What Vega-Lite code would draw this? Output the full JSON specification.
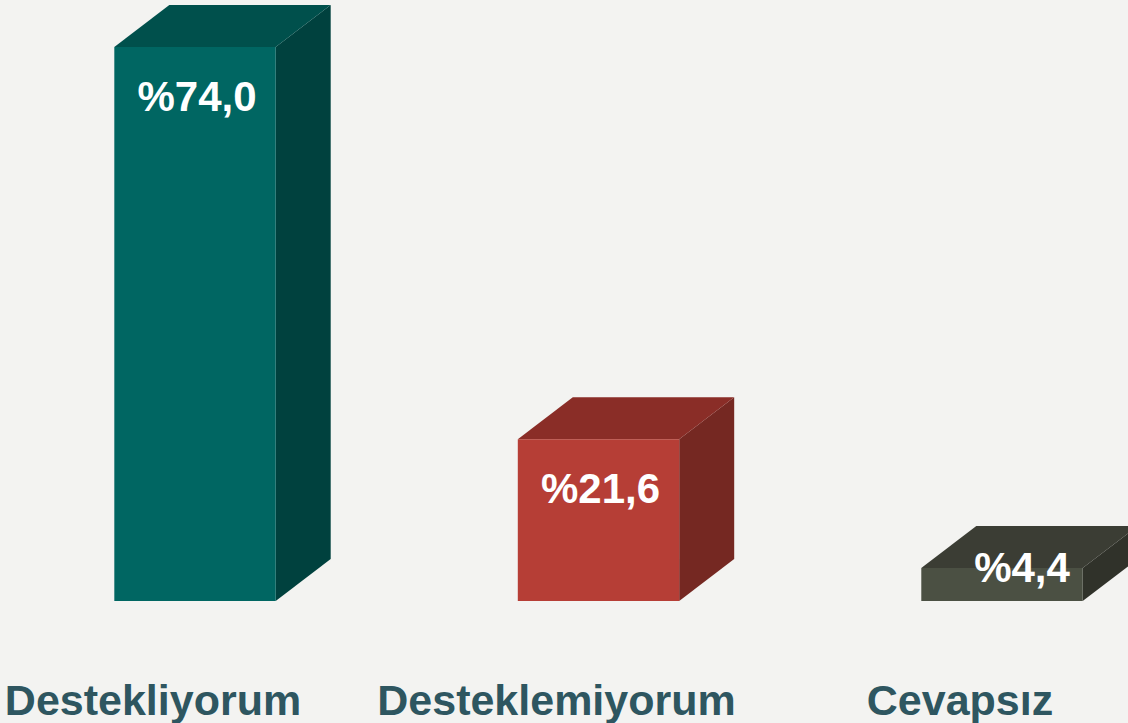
{
  "$schema": "https://vega.github.io/schema/vega-lite/v6.json",
  "width": 1128,
  "height": 723,
  "padding": 0,
  "autosize": "none",
  "background": "#f3f3f1",
  "config": {"view": {"stroke": null}},
  "data": {
    "values": [
      {"cat": "Destekliyorum", "value": 74.0},
      {"cat": "Desteklemiyorum", "value": 21.6},
      {"cat": "Cevapsız", "value": 4.4}
    ]
  },
  "transform": [
    {"window": [{"op": "row_number", "as": "rn"}]},
    {"calculate": "datum.rn - 1", "as": "xc"},
    {"calculate": "datum.xc - 0.2", "as": "xl"},
    {"calculate": "datum.xc + 0.2", "as": "xr"},
    {"calculate": "'%' + replace(format(datum.value, '.1f'), '.', ',')", "as": "label"}
  ],
  "resolve": {"scale": {"color": "independent"}},
  "layer": [
    {
      "transform": [
        {"calculate": "[0, 1]", "as": "k"},
        {"flatten": ["k"]},
        {"calculate": "datum.xr + datum.k * 0.1363", "as": "sx"},
        {"calculate": "datum.value + datum.k * 5.61", "as": "sy"},
        {"calculate": "datum.k * 5.61", "as": "sy2"}
      ],
      "mark": {"type": "area", "orient": "vertical"},
      "encoding": {
        "x": {"field": "sx", "type": "quantitative", "scale": {"domain": [-0.4833, 2.3123], "nice": false, "zero": false}, "axis": null},
        "y": {"field": "sy", "type": "quantitative", "scale": {"domain": [-16.297, 80.28], "nice": false, "zero": false}, "axis": null},
        "y2": {"field": "sy2"},
        "detail": {"field": "cat"},
        "color": {"field": "cat", "type": "nominal", "legend": null,
          "scale": {"domain": ["Destekliyorum", "Desteklemiyorum", "Cevapsız"], "range": ["#00413e", "#752822", "#30322a"]}}
      }
    },
    {
      "transform": [
        {"calculate": "[0, 1]", "as": "k"},
        {"flatten": ["k"]},
        {"calculate": "datum.xl + datum.k * 0.1363", "as": "tx"},
        {"calculate": "datum.xr + datum.k * 0.1363", "as": "tx2"},
        {"calculate": "datum.value + datum.k * 5.61", "as": "ty"}
      ],
      "mark": {"type": "area", "orient": "horizontal"},
      "encoding": {
        "y": {"field": "ty", "type": "quantitative", "scale": {"domain": [-16.297, 80.28], "nice": false, "zero": false}, "axis": null},
        "x": {"field": "tx", "type": "quantitative", "scale": {"domain": [-0.4833, 2.3123], "nice": false, "zero": false}, "axis": null},
        "x2": {"field": "tx2"},
        "detail": {"field": "cat"},
        "color": {"field": "cat", "type": "nominal", "legend": null,
          "scale": {"domain": ["Destekliyorum", "Desteklemiyorum", "Cevapsız"], "range": ["#00504c", "#8a2d27", "#3b3d34"]}}
      }
    },
    {
      "mark": {"type": "bar"},
      "encoding": {
        "x": {"field": "xl", "type": "quantitative", "scale": {"domain": [-0.4833, 2.3123], "nice": false, "zero": false}, "axis": null},
        "x2": {"field": "xr"},
        "y": {"field": "value", "type": "quantitative", "scale": {"domain": [-16.297, 80.28], "nice": false, "zero": false}, "axis": null},
        "y2": {"datum": 0},
        "color": {"field": "cat", "type": "nominal", "legend": null,
          "scale": {"domain": ["Destekliyorum", "Desteklemiyorum", "Cevapsız"], "range": ["#006662", "#b63e36", "#4b5043"]}}
      }
    },
    {
      "transform": [{"filter": "datum.value >= 10"}],
      "mark": {"type": "text", "color": "#ffffff", "font": "Liberation Sans", "fontWeight": "bold", "fontSize": 42, "align": "center", "baseline": "middle", "dy": 51, "dx": 2},
      "encoding": {
        "x": {"field": "xc", "type": "quantitative", "scale": {"domain": [-0.4833, 2.3123], "nice": false, "zero": false}, "axis": null},
        "y": {"field": "value", "type": "quantitative", "scale": {"domain": [-16.297, 80.28], "nice": false, "zero": false}, "axis": null},
        "text": {"field": "label"}
      }
    },
    {
      "transform": [{"filter": "datum.value < 10"}],
      "mark": {"type": "text", "color": "#ffffff", "font": "Liberation Sans", "fontWeight": "bold", "fontSize": 42, "align": "center", "baseline": "middle", "dy": 1, "dx": 20},
      "encoding": {
        "x": {"field": "xc", "type": "quantitative", "scale": {"domain": [-0.4833, 2.3123], "nice": false, "zero": false}, "axis": null},
        "y": {"field": "value", "type": "quantitative", "scale": {"domain": [-16.297, 80.28], "nice": false, "zero": false}, "axis": null},
        "text": {"field": "label"}
      }
    },
    {
      "mark": {"type": "text", "color": "#2e5660", "font": "Liberation Sans", "fontWeight": "bold", "fontSize": 43, "align": "center", "baseline": "alphabetic", "dy": 114, "dx": -42},
      "encoding": {
        "x": {"field": "xc", "type": "quantitative", "scale": {"domain": [-0.4833, 2.3123], "nice": false, "zero": false}, "axis": null},
        "y": {"datum": 0, "type": "quantitative", "scale": {"domain": [-16.297, 80.28], "nice": false, "zero": false}, "axis": null},
        "text": {"field": "cat"}
      }
    }
  ]
}
